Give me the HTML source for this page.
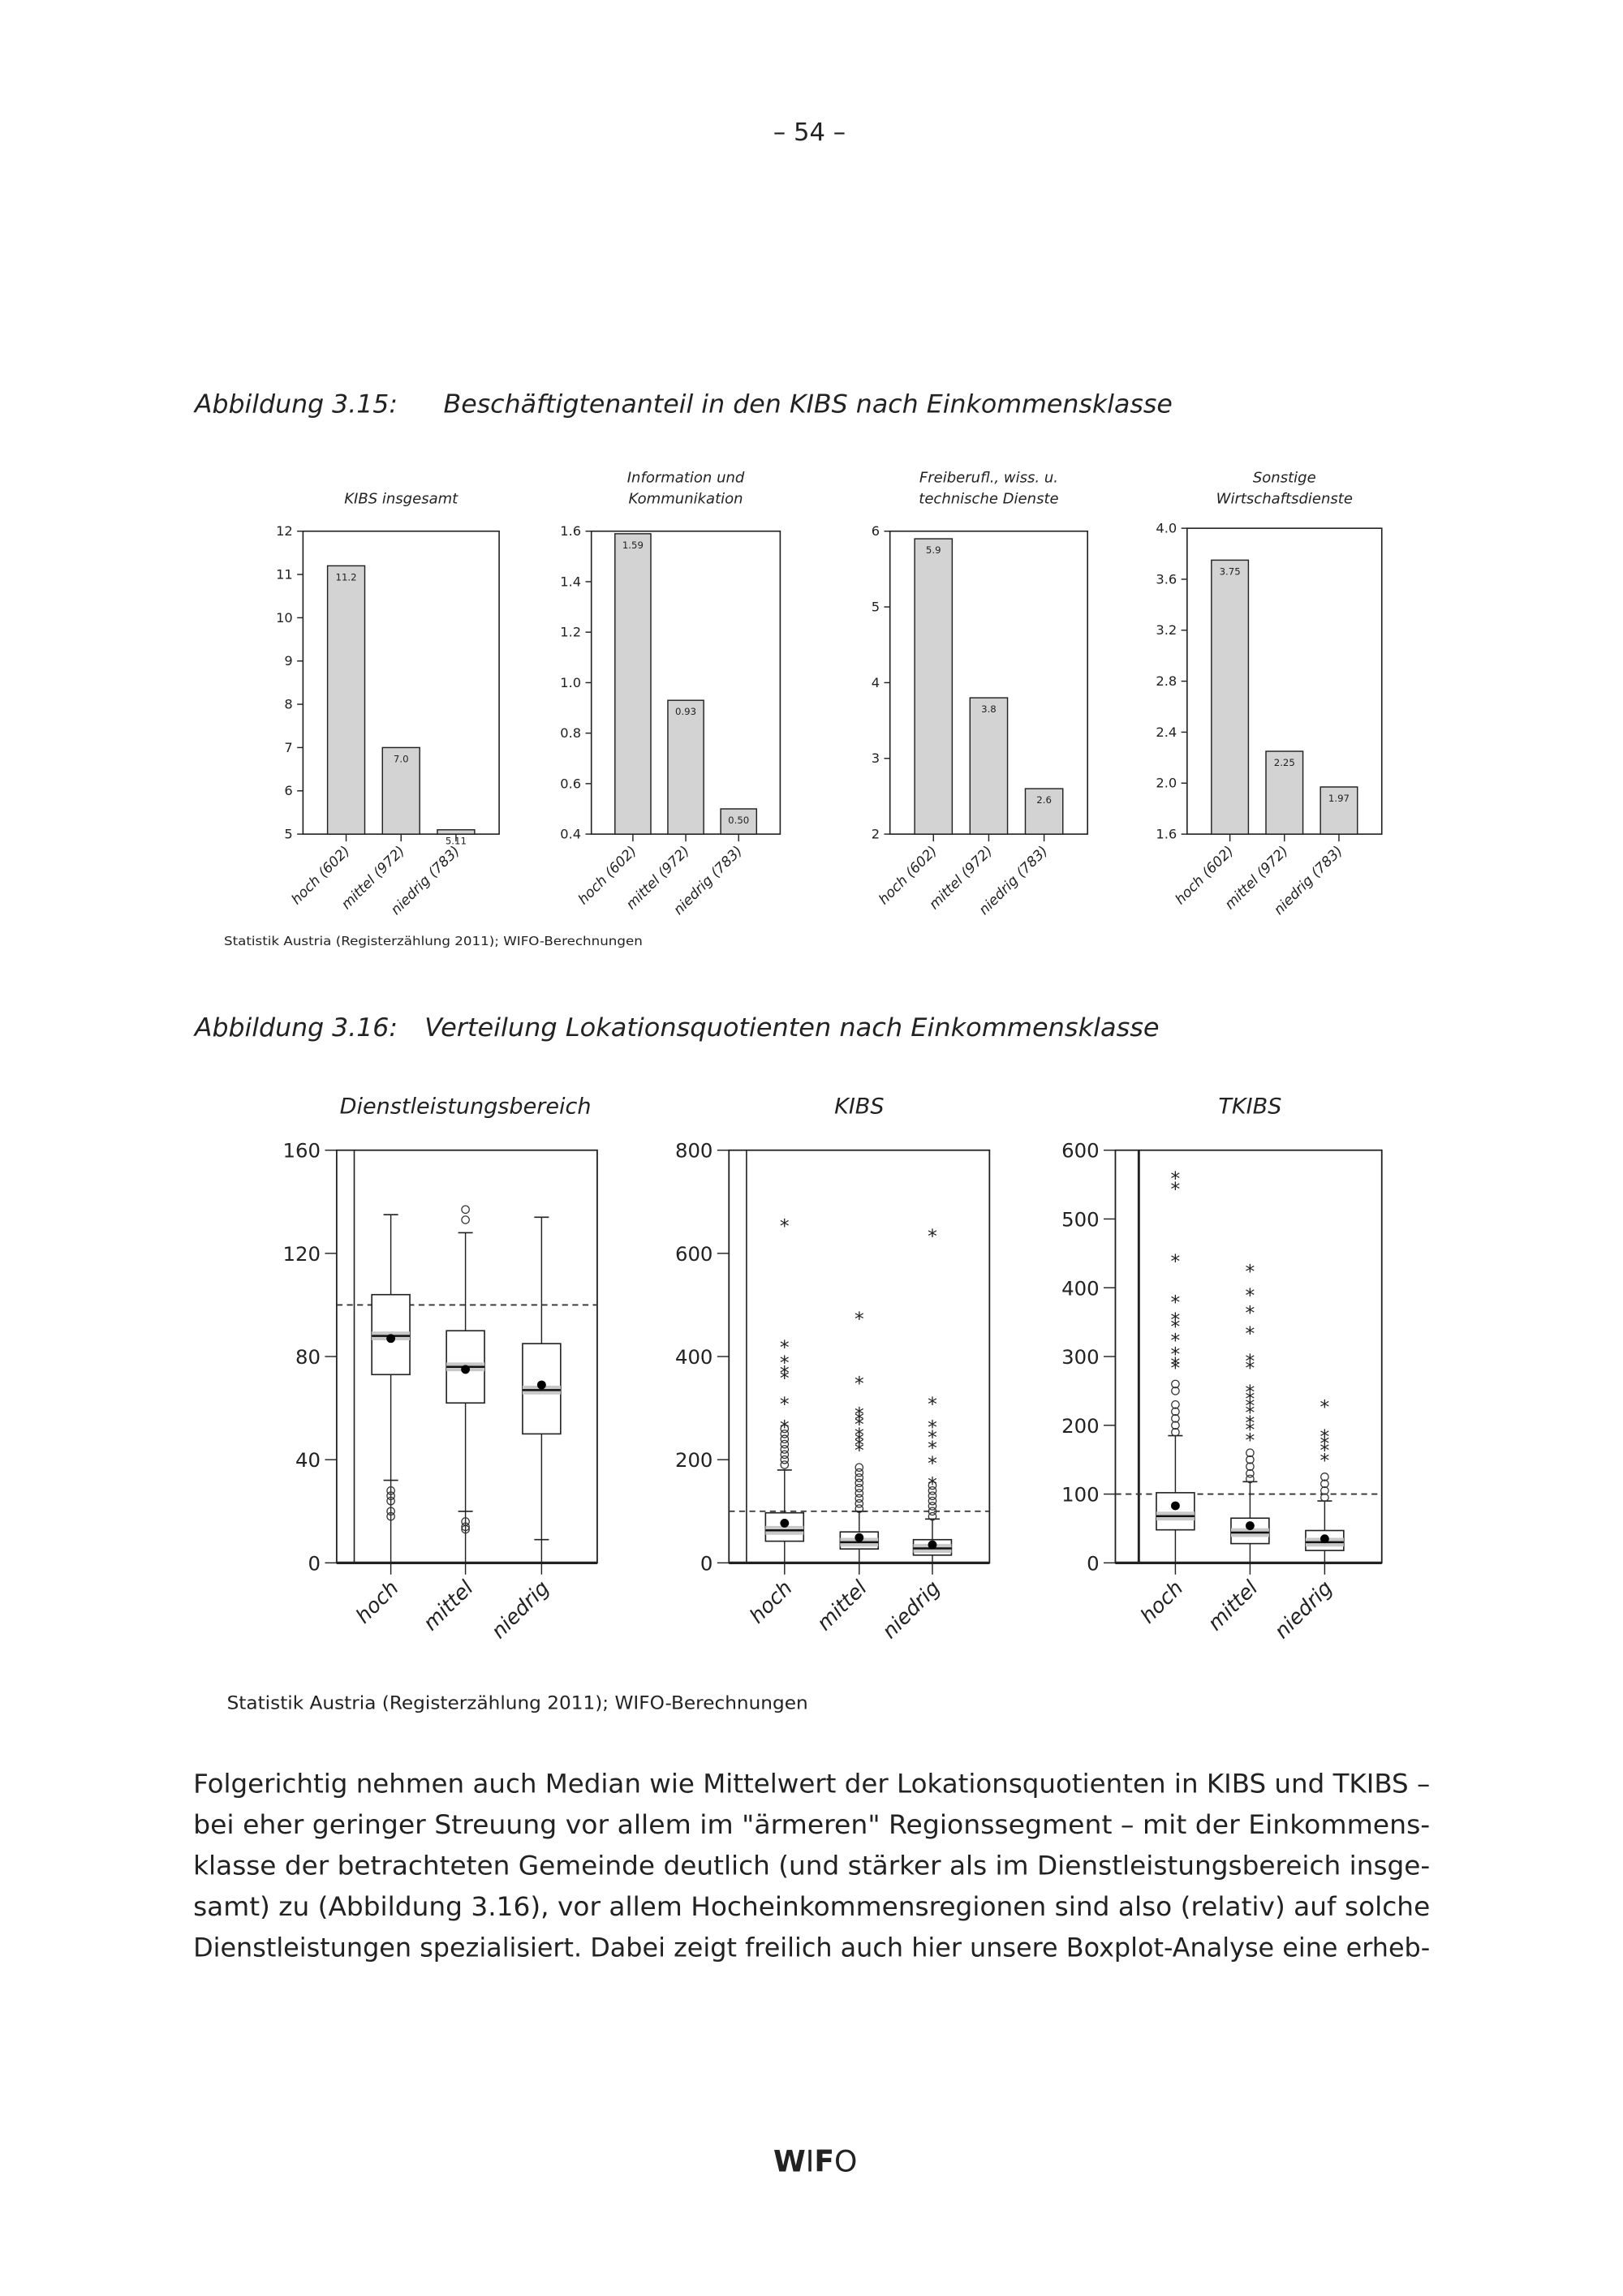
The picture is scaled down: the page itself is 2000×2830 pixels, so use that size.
<!DOCTYPE html>
<html><head><meta charset="utf-8"><style>
html,body{margin:0;padding:0;background:#fff}
svg{display:block}
text{font-family:"DejaVu Sans","Liberation Sans",sans-serif;fill:#222}
</style></head><body>
<svg id="pg" width="2000" height="2830" viewBox="0 0 1108.8 1569" preserveAspectRatio="none" xmlns="http://www.w3.org/2000/svg">
<text x="553" y="96" text-anchor="middle" font-size="17">– 54 –</text>
<text x="133" y="282" font-size="17.5" font-style="italic">Abbildung 3.15:</text>
<text x="303" y="282" font-size="17.5" font-style="italic" textLength="498" lengthAdjust="spacingAndGlyphs">Beschäftigtenanteil in den KIBS nach Einkommensklasse</text>
<g id="bars"></g>
<text x="153" y="646" font-size="8.5" textLength="286" lengthAdjust="spacingAndGlyphs">Statistik Austria (Registerzählung 2011); WIFO-Berechnungen</text>
<text x="133" y="708" font-size="17.5" font-style="italic">Abbildung 3.16:</text>
<text x="290" y="708" font-size="17.5" font-style="italic" textLength="502" lengthAdjust="spacingAndGlyphs">Verteilung Lokationsquotienten nach Einkommensklasse</text>
<g id="boxes"></g>
<text x="155" y="1168" font-size="12.5" textLength="397" lengthAdjust="spacingAndGlyphs">Statistik Austria (Registerzählung 2011); WIFO-Berechnungen</text>
<g font-size="18">
<text x="132" y="1225" textLength="845" lengthAdjust="spacingAndGlyphs">Folgerichtig nehmen auch Median wie Mittelwert der Lokationsquotienten in KIBS und TKIBS –</text>
<text x="132" y="1253" textLength="845" lengthAdjust="spacingAndGlyphs">bei eher geringer Streuung vor allem im "ärmeren" Regionssegment – mit der Einkommens-</text>
<text x="132" y="1281" textLength="845" lengthAdjust="spacingAndGlyphs">klasse der betrachteten Gemeinde deutlich (und stärker als im Dienstleistungsbereich insge-</text>
<text x="132" y="1309" textLength="845" lengthAdjust="spacingAndGlyphs">samt) zu (Abbildung 3.16), vor allem Hocheinkommensregionen sind also (relativ) auf solche</text>
<text x="132" y="1337" textLength="845" lengthAdjust="spacingAndGlyphs">Dienstleistungen spezialisiert. Dabei zeigt freilich auch hier unsere Boxplot-Analyse eine erheb-</text>
</g>
<text x="557" y="1484" text-anchor="middle" font-size="20" font-weight="bold">W<tspan font-weight="normal">I</tspan>F<tspan font-weight="normal">O</tspan></text>
</svg>
<script>
// ---- bar chart data ----
const barCats = ["hoch (602)", "mittel (972)", "niedrig (783)"];
const barTitles = [["KIBS insgesamt"], ["Information und", "Kommunikation"], ["Freiberufl., wiss. u.", "technische Dienste"], ["Sonstige", "Wirtschaftsdienste"]];
const barVals1 = [11.2, 7.0, 5.1];
const barVals2 = [1.59, 0.93, 0.50];
const barVals3 = [5.9, 3.8, 2.6];
const barVals4 = [3.75, 2.25, 1.97];
const barLabels1 = ["11.2", "7.0", "5.11"];
const barLabels2 = ["1.59", "0.93", "0.50"];
const barLabels3 = ["5.9", "3.8", "2.6"];
const barLabels4 = ["3.75", "2.25", "1.97"];
const barTicks1 = ["5", "6", "7", "8", "9", "10", "11", "12"];
const barTicks2 = ["0.4", "0.6", "0.8", "1.0", "1.2", "1.4", "1.6"];
const barTicks3 = ["2", "3", "4", "5", "6"];
const barTicks4 = ["1.6", "2.0", "2.4", "2.8", "3.2", "3.6", "4.0"];

// ---- boxplot data ----
const boxCats = ["hoch", "mittel", "niedrig"];
const boxTitles = ["Dienstleistungsbereich", "KIBS", "TKIBS"];
const boxTicks1 = ["0", "40", "80", "120", "160"];
const boxTicks2 = ["0", "200", "400", "600", "800"];
const boxTicks3 = ["0", "100", "200", "300", "400", "500", "600"];
// [whiskerLow, Q1, median, Q3, whiskerHigh, mean]
const dlStats = [[32, 73, 88, 104, 135, 87], [20, 62, 76, 90, 128, 75], [9, 50, 67, 85, 134, 69]];
const dlCircles = [[28, 26, 24, 20, 18], [137, 133, 16, 14, 13], []];
const dlStars = [[], [], []];
const kibsStats = [[0, 42, 63, 97, 180, 77], [0, 27, 40, 60, 100, 49], [0, 15, 28, 45, 85, 35]];
const kibsCircles = [[190, 200, 210, 220, 230, 240, 250, 260], [105, 115, 125, 135, 145, 155, 165, 175, 185], [90, 100, 110, 120, 130, 140, 150]];
const kibsStars = [[655, 420, 390, 370, 360, 310, 265], [475, 350, 290, 280, 270, 250, 240, 230, 220], [635, 310, 265, 245, 225, 195, 155]];
const tkStats = [[0, 48, 68, 102, 185, 83], [0, 28, 44, 65, 118, 54], [0, 18, 30, 47, 90, 35]];
const tkCircles = [[190, 200, 210, 220, 230, 250, 260], [122, 130, 140, 150, 160], [95, 105, 115, 125]];
const tkStars = [[560, 545, 440, 380, 355, 345, 325, 305, 290, 285], [425, 390, 365, 335, 295, 285, 250, 240, 230, 220, 205, 195, 180], [228, 185, 175, 165, 150]];
const refLine = 100;

const NS = "http://www.w3.org/2000/svg";
function mk(parent, tag, attrs, txt) {
  const e = document.createElementNS(NS, tag);
  for (const k in attrs) e.setAttribute(k, attrs[k]);
  if (txt !== undefined) e.textContent = txt;
  parent.appendChild(e);
  return e;
}

const barFrames = [
  {x: 207, w: 134, y: 363, h: 207, min: 5, max: 12, vals: barVals1, labs: barLabels1, ticks: barTicks1},
  {x: 404, w: 129, y: 363, h: 207, min: 0.4, max: 1.6, vals: barVals2, labs: barLabels2, ticks: barTicks2},
  {x: 608, w: 135, y: 363, h: 207, min: 2, max: 6, vals: barVals3, labs: barLabels3, ticks: barTicks3},
  {x: 811, w: 133, y: 361, h: 209, min: 1.6, max: 4.0, vals: barVals4, labs: barLabels4, ticks: barTicks4}
];
const bg = document.getElementById("bars");
barFrames.forEach((f, ci) => {
  const g = mk(bg, "g", {});
  
  
  const yS = v => f.y + f.h - (v - f.min) / (f.max - f.min) * f.h;
  const xS = i => f.x + f.w * (0.22 + 0.28 * i);
  const t = barTitles[ci];
  t.forEach((line, li) => {
    const tt = mk(g, "text", {x: f.x + f.w / 2, y: 344 - (t.length - 1 - li) * 14.5, "text-anchor": "middle", "font-size": "10", "font-style": "italic"}, line);
    
    
  });
  const fr = mk(g, "rect", {x: f.x, y: f.y, width: f.w, height: f.h, fill: "none", stroke: "#222", "stroke-width": "0.9"});
  
  
  f.ticks.forEach(tk => {
    const yy = yS(parseFloat(tk));
    mk(g, "line", {x1: f.x - 4, x2: f.x, y1: yy, y2: yy, stroke: "#222", "stroke-width": "0.8"});
    const tl = mk(g, "text", {x: f.x - 7, y: yy + 3, "text-anchor": "end", "font-size": "9"}, tk);
    
    
  });
  f.vals.forEach((v, i) => {
    const cx = xS(i), bw = f.w * 0.19;
    const b = mk(g, "rect", {x: cx - bw / 2, y: yS(v), width: bw, height: yS(f.min) - yS(v), fill: "#d3d3d3", stroke: "#222", "stroke-width": "0.8"});
    
    
    const inside = (yS(f.min) - yS(v)) > 15;
    const vl = mk(g, "text", {x: cx, y: inside ? yS(v) + 10 : yS(f.min) + 7, "text-anchor": "middle", "font-size": "6.5"}, f.labs[i]);
    
    
    mk(g, "line", {x1: cx, x2: cx, y1: f.y + f.h, y2: f.y + f.h + 5, stroke: "#222", "stroke-width": "0.8"});
    const cl = mk(g, "text", {x: cx + 3, y: f.y + f.h + 12, "text-anchor": "end", "font-size": "9.5", "font-style": "italic", transform: `rotate(-45 ${cx + 3} ${f.y + f.h + 12})`}, barCats[i]);
    
    
  });
});

const boxFrames = [
  {x: 230, w: 178, inner: 242, max: 160, ticks: boxTicks1, stats: dlStats, circ: dlCircles, stars: dlStars, cx: [267, 318, 370], tx: 318},
  {x: 498, w: 178, inner: 510, max: 800, ticks: boxTicks2, stats: kibsStats, circ: kibsCircles, stars: kibsStars, cx: [536, 587, 637], tx: 587},
  {x: 762, w: 182, inner: 778, max: 600, ticks: boxTicks3, stats: tkStats, circ: tkCircles, stars: tkStars, cx: [803, 854, 905], tx: 854}
];
const BY = 786, BH = 282;
const xg = document.getElementById("boxes");
boxFrames.forEach((f, ci) => {
  const g = mk(xg, "g", {});
  
  
  const yS = v => BY + BH - v / f.max * BH;
  const tt = mk(g, "text", {x: f.tx, y: 761, "text-anchor": "middle", "font-size": "15", "font-style": "italic"}, boxTitles[ci]);
  
  
  mk(g, "rect", {x: f.x, y: BY, width: f.w, height: BH, fill: "none", stroke: "#222", "stroke-width": "1"});
  mk(g, "line", {x1: f.inner, x2: f.inner, y1: BY, y2: BY + BH, stroke: "#222", "stroke-width": ci == 2 ? "1.6" : "0.9"});
  mk(g, "line", {x1: f.x, x2: f.x + f.w, y1: BY + BH, y2: BY + BH, stroke: "#222", "stroke-width": "1.8"});
  f.ticks.forEach(tk => {
    const yy = yS(parseFloat(tk));
    mk(g, "line", {x1: f.x - 8, x2: f.x, y1: yy, y2: yy, stroke: "#222", "stroke-width": "0.8"});
    const tl = mk(g, "text", {x: f.x - 11, y: yy + 5, "text-anchor": "end", "font-size": "13.5", fill: "#333"}, tk);
    
    
  });
  const rl = mk(g, "line", {x1: f.x, x2: f.x + f.w, y1: yS(refLine), y2: yS(refLine), stroke: "#333", "stroke-width": "1", "stroke-dasharray": "4 3"});
  
  
  f.stats.forEach((s, i) => {
    const cx = f.cx[i], bw = 26;
    const [lo, q1, md, q3, hi, mn] = s;
    const bgp = mk(g, "g", {});
    
    
    mk(bgp, "line", {x1: cx, x2: cx, y1: yS(hi), y2: BY + BH + 8, stroke: "#222", "stroke-width": "0.8"});
    mk(bgp, "line", {x1: cx - 5, x2: cx + 5, y1: yS(hi), y2: yS(hi), stroke: "#222", "stroke-width": "0.9"});
    if (lo > 0) mk(bgp, "line", {x1: cx - 5, x2: cx + 5, y1: yS(lo), y2: yS(lo), stroke: "#222", "stroke-width": "0.9"});
    mk(bgp, "rect", {x: cx - bw / 2, y: yS(q3), width: bw, height: yS(q1) - yS(q3), fill: "#fff", stroke: "#222", "stroke-width": "0.9"});
    mk(bgp, "rect", {x: cx - bw / 2, y: yS(md) - 3, width: bw, height: 6, fill: "#c8c8c8"});
    mk(bgp, "line", {x1: cx - bw / 2, x2: cx + bw / 2, y1: yS(md), y2: yS(md), stroke: "#111", "stroke-width": "1.4"});
    mk(bgp, "circle", {cx: cx, cy: yS(mn), r: 3, fill: "#000"});
    f.circ[i].forEach(v => mk(bgp, "circle", {cx: cx, cy: yS(v), r: 2.6, fill: "none", stroke: "#333", "stroke-width": "0.7"}));
    f.stars[i].forEach(v => {
      const sy = yS(v);
      const st = mk(bgp, "text", {x: cx, y: sy + 5, "text-anchor": "middle", "font-size": "13"}, "*");
      
      
    });
    const lx = cx + 6, ly = BY + BH + 18;
    const cl = mk(g, "text", {x: lx, y: ly, "text-anchor": "end", "font-size": "14", "font-style": "italic", transform: `rotate(-45 ${lx} ${ly})`}, boxCats[i]);
    
    
  });
});
</script>
</body></html>
